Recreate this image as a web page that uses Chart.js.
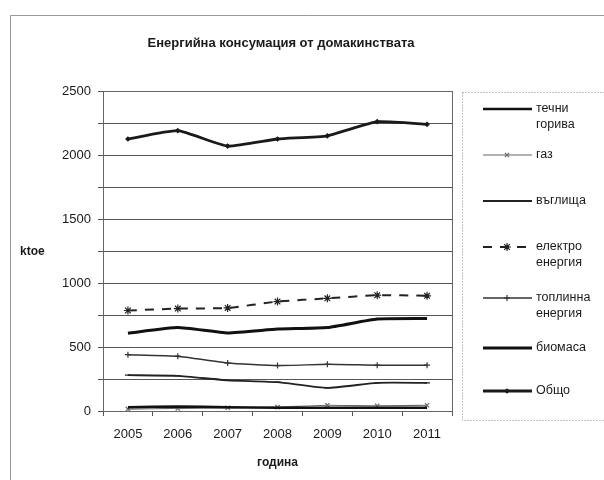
<!DOCTYPE html>
<html>
<head>
<meta charset="utf-8">
<script src="https://cdn.jsdelivr.net/npm/chart.js@4.4.0/dist/chart.umd.min.js"></script>
<style>
  html, body { margin: 0; background: #fff; }
  #box { width: 604px; height: 480px; }
</style>
</head>
<body>
<div id="box"><canvas id="chart" width="604" height="480"></canvas></div>
<script>
// data (ktoe)
const years = ['2005', '2006', '2007', '2008', '2009', '2010', '2011'];
const liquidFuels = [30, 35, 30, 25, 25, 25, 25];
const gas = [15, 20, 25, 30, 45, 40, 45];
const coal = [280, 275, 240, 225, 180, 220, 220];
const electricity = [785, 800, 805, 855, 880, 905, 900];
const heat = [440, 428, 375, 355, 365, 358, 358];
const biomass = [608, 652, 610, 640, 652, 718, 722];
const total = [2125, 2190, 2070, 2125, 2150, 2260, 2240];
const seriesNames = [['течни', 'горива'], ['газ'], ['въглища'], ['електро', 'енергия'], ['топлинна', 'енергия'], ['биомаса'], ['Общо']];
const chartTitle = 'Енергийна консумация от домакинствата';
const yTitle = 'ktoe';
const xTitle = 'година';
const yMax = 2500;
const yStep = 250;
const yLabelStep = 500;

const FONT = 'Liberation Sans';
const legendRowY = [109, 155, 201, 247, 298, 348, 391];

function ds(label, data, color, width, dash, point, radius) {
  return {
    label: label.join(' '),
    data: data,
    borderColor: color,
    backgroundColor: color,
    borderWidth: width,
    borderDash: dash,
    pointStyle: point,
    pointRadius: radius,
    pointBorderWidth: 1.2,
    tension: 0.15,
    fill: false
  };
}

const datasets = [
  ds(seriesNames[0], liquidFuels, '#111', 2.5, [], false, 0),
  ds(seriesNames[1], gas, '#666', 1.2, [], 'crossRot', 3),
  ds(seriesNames[2], coal, '#222', 1.8, [], 'line', 3),
  ds(seriesNames[3], electricity, '#222', 2, [9, 8], 'star', 4),
  ds(seriesNames[4], heat, '#333', 1.4, [], 'cross', 3),
  ds(seriesNames[5], biomass, '#111', 3, [], false, 0),
  ds(seriesNames[6], total, '#1a1a1a', 2.8, [], 'rectRot', 2)
];

const framePlugin = {
  id: 'frame',
  beforeDraw(chart) {
    const c = chart.ctx;
    c.save();
    c.fillStyle = '#fff';
    c.fillRect(0, 0, chart.width, chart.height);
    c.strokeStyle = '#999';
    c.lineWidth = 1;
    c.beginPath();
    c.moveTo(10.5, chart.height);
    c.lineTo(10.5, 15.5);
    c.lineTo(chart.width, 15.5);
    c.stroke();
    c.restore();
  },
  afterDraw(chart) {
    const c = chart.ctx;
    const a = chart.chartArea;
    c.save();
    c.strokeStyle = '#666';
    c.lineWidth = 1;
    c.strokeRect(Math.round(a.left) + 0.5, Math.round(a.top) + 0.5, Math.round(a.right - a.left), Math.round(a.bottom - a.top));
    // texts
    c.fillStyle = '#1a1a1a';
    c.textBaseline = 'middle';
    c.textAlign = 'center';
    c.font = 'bold 13px "' + FONT + '"';
    c.fillText(chartTitle, 281, 43);
    c.font = 'bold 12px "' + FONT + '"';
    c.textAlign = 'left';
    c.fillText(yTitle, 20, 252);
    c.textAlign = 'center';
    c.fillText(xTitle, (a.left + a.right) / 2, 463);
    // legend
    c.strokeStyle = '#888';
    c.setLineDash([1, 2]);
    c.strokeRect(462.5, 92.5, 160, 328);
    c.setLineDash([]);
    c.font = '12.5px "' + FONT + '"';
    chart.data.datasets.forEach((d, i) => {
      const y = legendRowY[i];
      c.save();
      c.strokeStyle = d.borderColor;
      c.lineWidth = d.borderWidth;
      c.setLineDash(d.borderDash || []);
      c.beginPath();
      c.moveTo(483, y);
      c.lineTo(532, y);
      c.stroke();
      c.restore();
      if (d.pointStyle) {
        c.save();
        c.strokeStyle = d.borderColor;
        c.fillStyle = d.borderColor;
        c.lineWidth = d.pointBorderWidth;
        Chart.helpers.drawPoint(c, { pointStyle: d.pointStyle, radius: d.pointRadius, rotation: 0, borderWidth: d.pointBorderWidth }, 507, y);
        c.restore();
      }
      c.fillStyle = '#1a1a1a';
      c.textAlign = 'left';
      seriesNames[i].forEach((t, k) => c.fillText(t, 536, y + k * 16));
    });
    c.restore();
  }
};

new Chart(document.getElementById('chart'), {
  type: 'line',
  data: { labels: years, datasets: datasets },
  options: {
    responsive: false,
    animation: false,
    devicePixelRatio: 1,
    layout: { padding: { left: 0, top: 91, right: 152, bottom: 0 } },
    plugins: { legend: { display: false }, title: { display: false }, tooltip: { enabled: false } },
    scales: {
      x: {
        offset: true,
        afterFit(s) { s.height = 69; },
        grid: { offset: true, drawOnChartArea: false, color: '#555', tickLength: 5 },
        border: { color: '#555' },
        ticks: { color: '#1a1a1a', padding: 11, font: { family: FONT, size: 13 } }
      },
      y: {
        min: 0,
        max: yMax,
        afterFit(s) { s.width = 103; },
        grid: { color: '#555', tickLength: 5 },
        border: { color: '#555' },
        ticks: {
          stepSize: yStep,
          color: '#1a1a1a',
          padding: 7,
          font: { family: FONT, size: 13 },
          callback: v => (v % yLabelStep === 0 ? v : '')
        }
      }
    }
  },
  plugins: [framePlugin]
});
</script>
</body>
</html>
